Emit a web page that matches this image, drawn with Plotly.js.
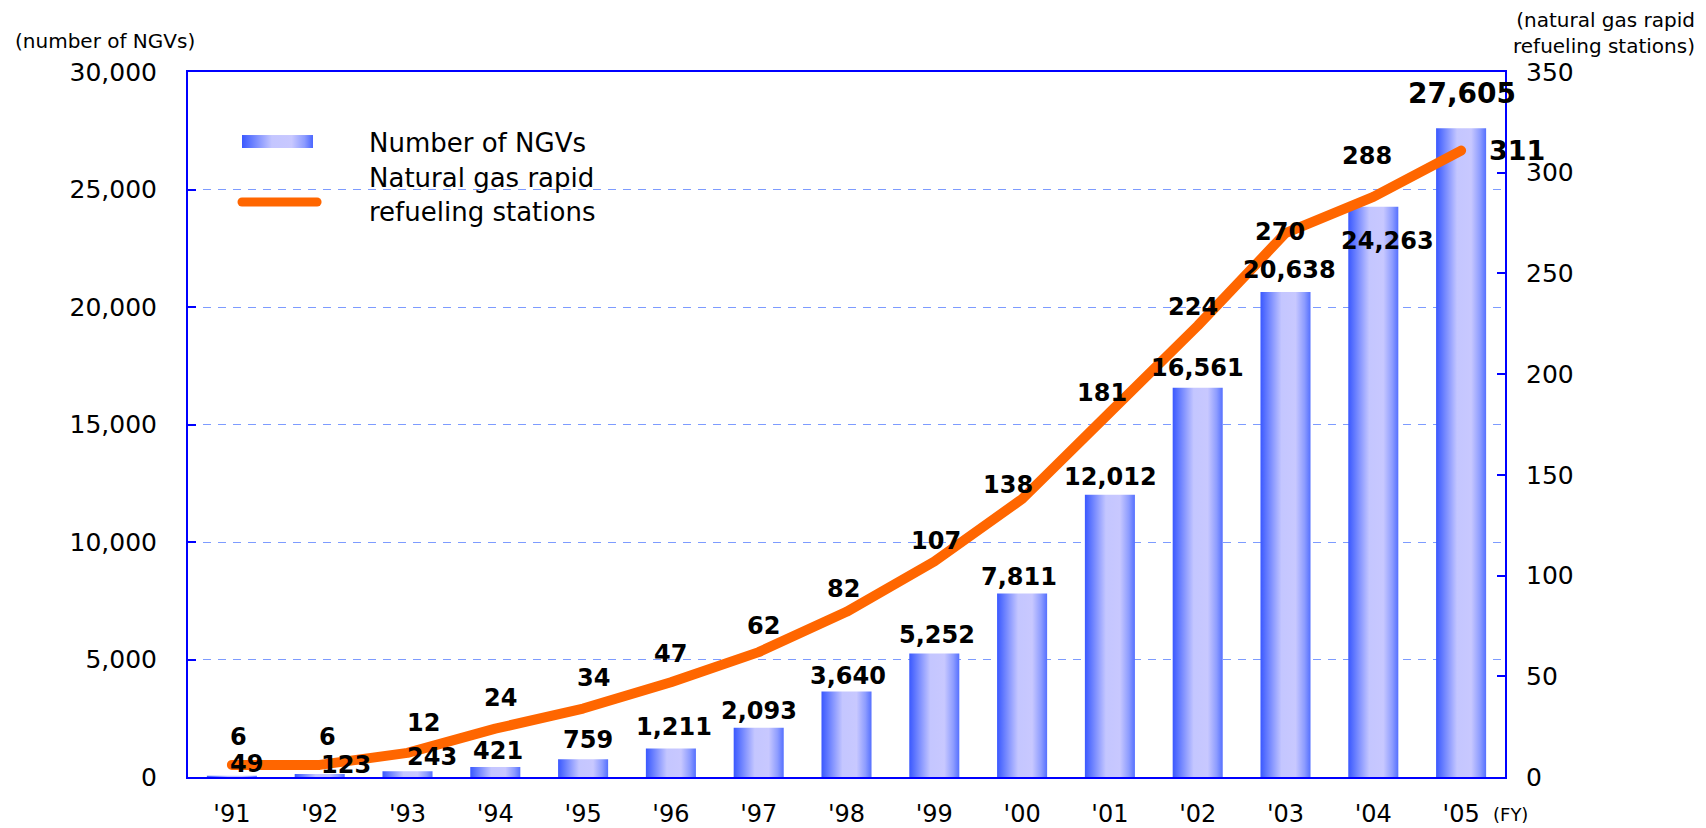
<!DOCTYPE html>
<html>
<head>
<meta charset="utf-8">
<script src="https://cdn.plot.ly/plotly-3.0.1.min.js"></script>
<style>
  html, body { margin: 0; padding: 0; background: #ffffff; }
  #chart { width: 1706px; height: 828px; }
  .scatterlayer .js-line { stroke-linecap: round !important; stroke-linejoin: round !important; }
  .shapelayer path { stroke-linecap: round !important; }
</style>
</head>
<body>
<div id="chart"></div>
<script>
// ---- data ----
const years = ["'91", "'92", "'93", "'94", "'95", "'96", "'97", "'98", "'99", "'00", "'01", "'02", "'03", "'04", "'05"];
const ngvCounts = [49, 123, 243, 421, 759, 1211, 2093, 3640, 5252, 7811, 12012, 16561, 20638, 24263, 27605];
const stationCounts = [6, 6, 12, 24, 34, 47, 62, 82, 107, 138, 181, 224, 270, 288, 311];
const leftTicks = [0, 5000, 10000, 15000, 20000, 25000, 30000];
const rightTicks = [0, 50, 100, 150, 200, 250, 300, 350];

// ---- label placement (pixel offsets from the mark) ----
const barLabelDx = [15, 26, 24, 3, 5, 3, 0, 1, 3, -3, 1, 0, 4, 14, 1];
const barLabelDy = [12, 9, 14, 16, 19, 22, 17, 15, 19, 16, 18, 20, 22, -34, 35];
const stLabelDx = [7, 8, 16, 5, 10, 0, 5, -3, 2, -14, -8, -5, -6, -6, 56];
const stLabelDy = [28, 28, 30, 31, 31, 28, 26, 23, 20, 14, 19, 19, 1, 41, 0];

const FONT = 'DejaVu Sans, Arial, sans-serif';
const BLUE = '#0000ff';
const ORANGE = '#ff6600';
const barWidth = 0.57;
const barScale = [[0, '#3a58ff'], [0.12, '#6078ff'], [0.42, '#c4c6ff'], [0.7, '#c8c8ff'], [0.88, '#8d9cff'], [1, '#5570ff']];

const xs = years.map((_, i) => i);
const traces = [];

// bars as gradient-filled shapes built from the data
ngvCounts.forEach((v, i) => {
  const l = i - barWidth / 2, r = i + barWidth / 2;
  traces.push({
    type: 'scatter', mode: 'none',
    x: [l, l, r, r, l], y: [0, v, v, 0, 0],
    fill: 'toself',
    fillgradient: { type: 'horizontal', colorscale: barScale },
    hoverinfo: 'skip', showlegend: false, xaxis: 'x', yaxis: 'y'
  });
});

traces.push({
  type: 'scatter', mode: 'lines',
  x: xs, y: stationCounts,
  line: { color: ORANGE, width: 10 },
  yaxis: 'y2', xaxis: 'x', showlegend: false, hoverinfo: 'skip', cliponaxis: false
});

const annotations = [];
ngvCounts.forEach((v, i) => {
  const last = i === ngvCounts.length - 1;
  annotations.push({
    x: i, y: v, xref: 'x', yref: 'y',
    text: v.toLocaleString('en-US'), showarrow: false,
    xanchor: 'center', yanchor: 'middle',
    xshift: barLabelDx[i], yshift: barLabelDy[i],
    font: { family: FONT, size: last ? 28 : 24, color: '#000000', weight: 'bold' }
  });
});
stationCounts.forEach((v, i) => {
  const last = i === stationCounts.length - 1;
  annotations.push({
    x: i, y: v, xref: 'x', yref: 'y2',
    text: String(v), showarrow: false,
    xanchor: 'center', yanchor: 'middle',
    xshift: stLabelDx[i], yshift: stLabelDy[i],
    font: { family: FONT, size: last ? 27 : 24, color: '#000000', weight: 'bold' }
  });
});

// axis captions
annotations.push({
  xref: 'paper', yref: 'paper', x: -0.1329, y: 1.044, xanchor: 'left', yanchor: 'middle',
  text: '(number of NGVs)', showarrow: false, font: { family: FONT, size: 20, color: '#000' }
});
annotations.push({
  xref: 'paper', yref: 'paper', x: 1.1458, y: 1.0553, xanchor: 'right', yanchor: 'middle', align: 'right',
  text: '(natural gas rapid<br>refueling stations)', showarrow: false, font: { family: FONT, size: 20, color: '#000' }
});
annotations.push({
  xref: 'paper', yref: 'paper', x: 1.0038, y: -0.0525, xanchor: 'center', yanchor: 'middle',
  text: '(FY)', showarrow: false, font: { family: FONT, size: 18, color: '#000' }
});
// legend texts
annotations.push({
  xref: 'paper', yref: 'paper', x: 0.1359, y: 0.9, xanchor: 'left', yanchor: 'middle',
  text: 'Number of NGVs', showarrow: false, font: { family: FONT, size: 26, color: '#000' }
});
annotations.push({
  xref: 'paper', yref: 'paper', x: 0.1359, y: 0.8259, xanchor: 'left', yanchor: 'middle', align: 'left',
  text: 'Natural gas rapid<br>refueling stations', showarrow: false, font: { family: FONT, size: 26, color: '#000' }
});

const swatchSvg = "<svg xmlns='http://www.w3.org/2000/svg' width='100' height='20' preserveAspectRatio='none'>" +
  "<defs><linearGradient id='g' x1='0' x2='1' y1='0' y2='0'>" +
  "<stop offset='0' stop-color='#3a58ff'/><stop offset='0.12' stop-color='#6078ff'/>" +
  "<stop offset='0.42' stop-color='#c4c6ff'/><stop offset='0.7' stop-color='#c8c8ff'/>" +
  "<stop offset='0.88' stop-color='#8d9cff'/><stop offset='1' stop-color='#4a66ff'/>" +
  "</linearGradient></defs><rect width='100' height='20' fill='url(#g)'/></svg>";

const layout = {
  width: 1706, height: 828,
  paper_bgcolor: '#ffffff', plot_bgcolor: '#ffffff',
  margin: { l: 188, r: 201, t: 72, b: 51 },
  showlegend: false,
  font: { family: FONT, color: '#000000' },
  xaxis: {
    range: [-0.5, 14.5], tickvals: xs, ticktext: years,
    showline: true, linecolor: BLUE, linewidth: 2, mirror: true,
    ticks: '', showgrid: false, zeroline: false,
    tickfont: { family: FONT, size: 24, color: '#000' },
    ticklabelstandoff: 14, fixedrange: true
  },
  yaxis: {
    range: [0, 30000], tickvals: leftTicks, tickformat: ',d',
    showline: true, linecolor: BLUE, linewidth: 2, mirror: false,
    ticks: 'inside', ticklen: 8, tickcolor: BLUE, tickwidth: 2,
    showgrid: true, gridcolor: '#7d9bff', gridwidth: 1, griddash: '8px,7px',
    zeroline: false,
    tickfont: { family: FONT, size: 25, color: '#000' },
    ticklabelstandoff: 24, fixedrange: true
  },
  yaxis2: {
    range: [0, 350], tickvals: rightTicks, overlaying: 'y', side: 'right',
    showline: true, linecolor: BLUE, linewidth: 2,
    ticks: 'inside', ticklen: 8, tickcolor: BLUE, tickwidth: 2,
    showgrid: false, zeroline: false,
    tickfont: { family: FONT, size: 25, color: '#000' },
    ticklabelstandoff: 14, fixedrange: true
  },
  images: [{
    source: 'data:image/svg+xml;charset=utf-8,' + encodeURIComponent(swatchSvg),
    xref: 'paper', yref: 'paper', x: 0.041, y: 0.9106, sizex: 0.0539, sizey: 0.0184,
    xanchor: 'left', yanchor: 'top', sizing: 'stretch', layer: 'above'
  }],
  shapes: [{
    type: 'line', xref: 'paper', yref: 'paper', x0: 0.041, x1: 0.098, y0: 0.8156, y1: 0.8156,
    line: { color: ORANGE, width: 9 }
  }],
  annotations: annotations
};

Plotly.newPlot('chart', traces, layout, { staticPlot: true, displayModeBar: false });
</script>
</body>
</html>
